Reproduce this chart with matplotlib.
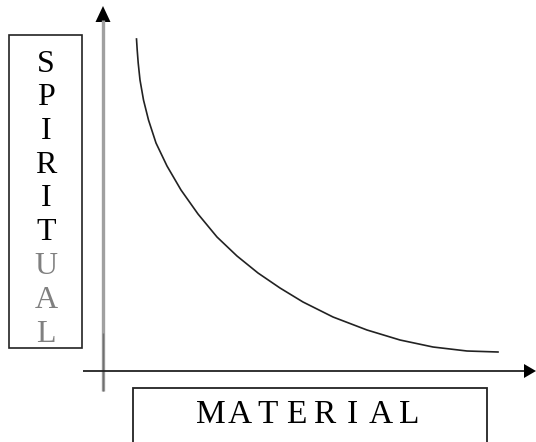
"""
Spiritual vs material sketch: a falling curve between two labelled axes.
Coordinates are in pixels measured from the axis crossing.
"""
import matplotlib
matplotlib.use("Agg")
import matplotlib.pyplot as plt
from matplotlib.patches import Rectangle, Polygon

# curve (x = material, y = spiritual)
material = [33.5, 34.2, 35.2, 37, 40.5, 45.5, 53, 64, 78, 95, 114, 134,
            155, 177, 200, 230, 264, 297, 330, 364, 395]
spiritual = [332, 321, 308, 291, 271, 251, 228, 205, 181, 157, 134, 115,
             98, 83, 69, 54, 41, 31, 24, 20, 19]

y_label = "SPIRITUAL"
y_label_colors = ["black"] * 6 + ["#808080"] * 3
x_label = "MATERIAL"

W, H = 536, 442
X0, Y0 = 103, 371          # pixel position of the origin

fig = plt.figure(figsize=(W / 100, H / 100), dpi=100)
ax = fig.add_axes([0, 0, 1, 1])
ax.set_xlim(-X0, W - X0)
ax.set_ylim(Y0 - H, Y0)
ax.axis("off")

font = ["Liberation Serif", "DejaVu Serif"]

# ===== axes =====
ax.plot([0, 0], [Y0 - 391, Y0 - 20], color="#a0a0a0", lw=2.4,
        solid_capstyle="butt")
ax.plot([0, 0], [Y0 - 391, Y0 - 333], color="#707070", lw=1.0,
        solid_capstyle="butt")
ax.add_patch(Polygon([[-7.5, Y0 - 22], [7.5, Y0 - 22], [0, Y0 - 6]],
                     closed=True, color="black", lw=0))
ax.plot([83 - X0, 524 - X0], [0, 0], color="#222222", lw=1.3,
        solid_capstyle="butt")
ax.add_patch(Polygon([[524 - X0, 7], [524 - X0, -7], [536 - X0, 0]],
                     closed=True, color="black", lw=0))

# ===== curve =====
ax.plot(material, spiritual, color="#222222", lw=1.2)

# ===== y label box =====
ax.add_patch(Rectangle((9 - X0, Y0 - 348), 73, 313, fill=False,
                       ec="#222222", lw=1.2))
for i, ch in enumerate(y_label):
    cy = 61 + 33.75 * i
    ax.text(46 - X0, Y0 - (cy + 10.5), ch, ha="center", va="baseline",
            fontsize=23, family=font, color=y_label_colors[i])

# ===== x label box =====
ax.add_patch(Rectangle((133 - X0, Y0 - 460), 354, 72, fill=False,
                       ec="#222222", lw=1.3))
for i, ch in enumerate(x_label):
    cx = 310 + (i - 3.5) * 28.2
    ax.text(cx - X0, Y0 - 423, ch, ha="center", va="baseline",
            fontsize=24, family=font, color="black")

fig.savefig("out.png", dpi=100)
